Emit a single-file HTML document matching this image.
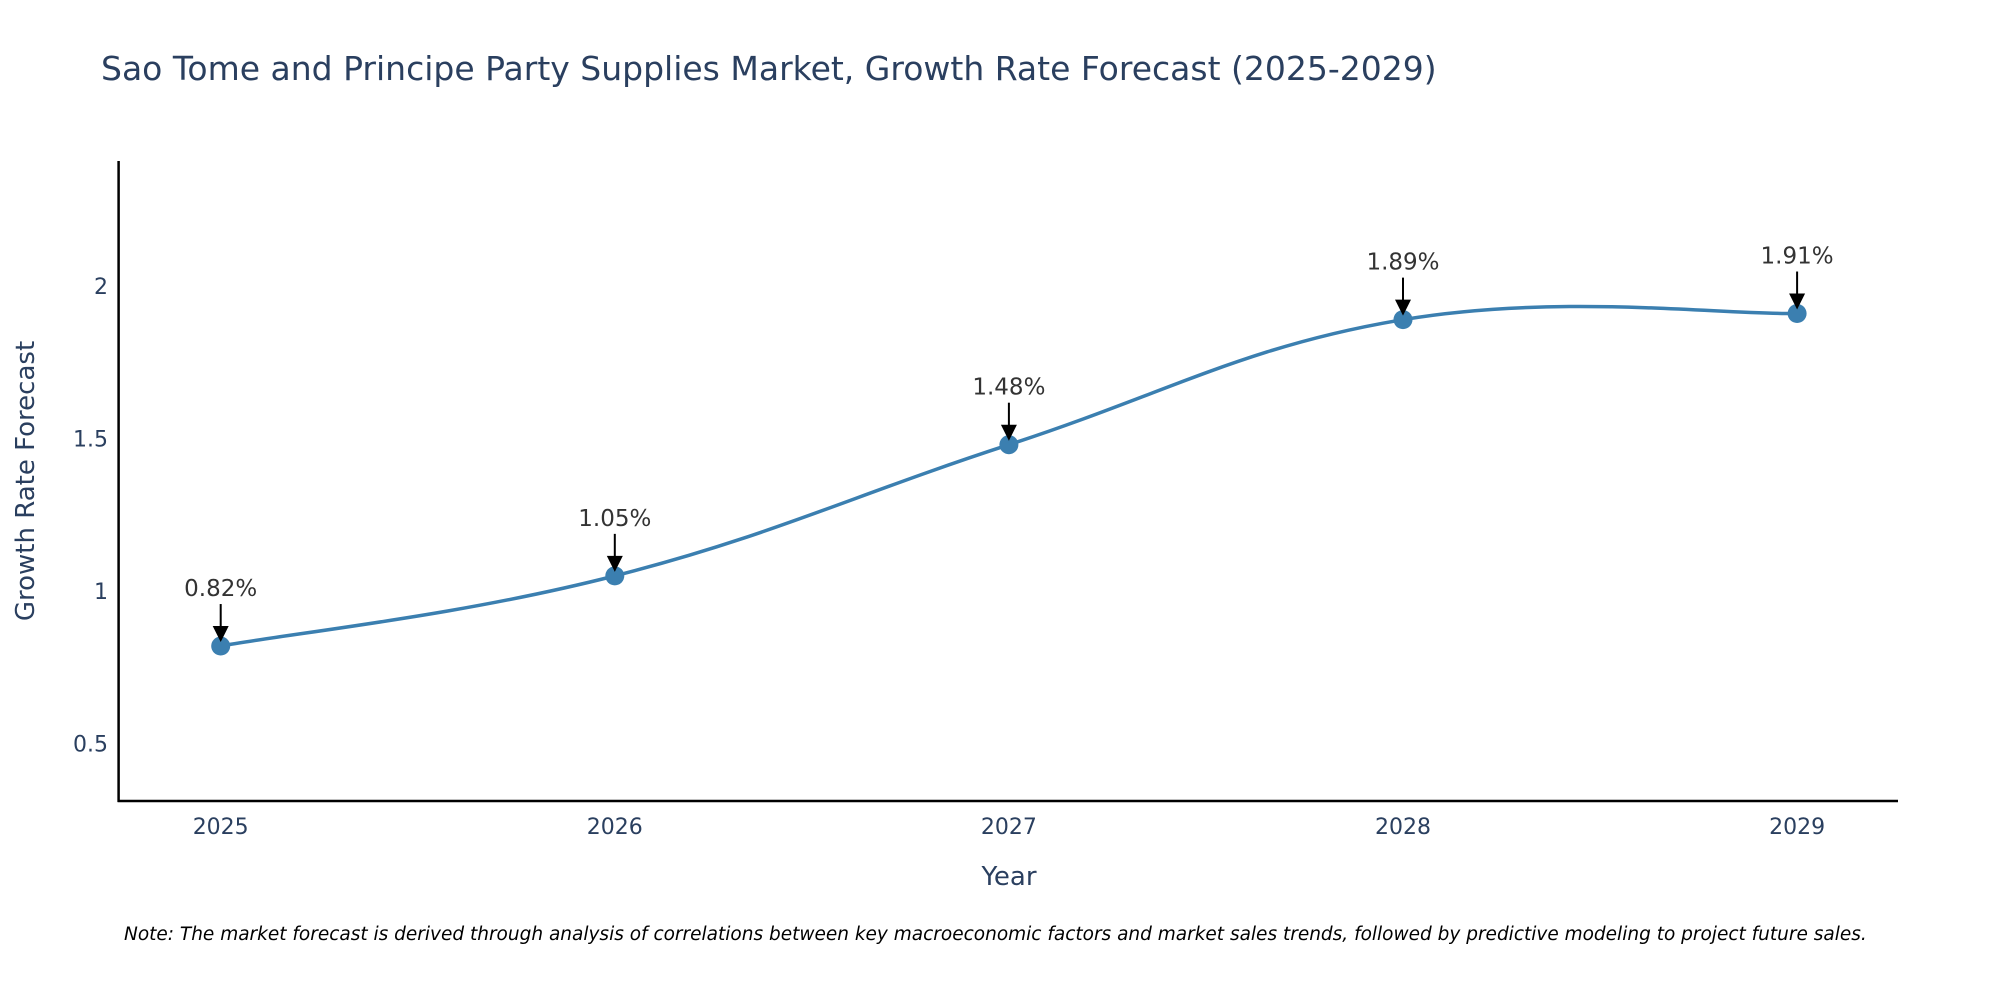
<!DOCTYPE html>
<html><head><meta charset="utf-8"><style>
html,body{margin:0;padding:0;background:#fff;}
svg{display:block;font-family:"DejaVu Sans","Liberation Sans",sans-serif;}
</style></head><body>
<svg id="chart" width="2000" height="1000" viewBox="0 0 2000 1000" xmlns="http://www.w3.org/2000/svg">
<text x="101" y="80" font-size="33" fill="#2a3f5f">Sao Tome and Principe Party Supplies Market, Growth Rate Forecast (2025-2029)</text>
<g id="plot"></g>
<text x="1009" y="885" font-size="26" fill="#2a3f5f" text-anchor="middle">Year</text>
<text transform="translate(34,481) rotate(-90)" font-size="26" fill="#2a3f5f" text-anchor="middle">Growth Rate Forecast</text>
<text x="124" y="940" font-size="18.5" font-style="italic" fill="#000">Note: The market forecast is derived through analysis of correlations between key macroeconomic factors and market sales trends, followed by predictive modeling to project future sales.</text>
</svg>
<script>
const years = [2025, 2026, 2027, 2028, 2029];
const growth = [0.82, 1.05, 1.48, 1.89, 1.91];
const labels = ["0.82%", "1.05%", "1.48%", "1.89%", "1.91%"];
const yTicks = [0.5, 1, 1.5, 2];
const yTickLabels = ["0.5", "1", "1.5", "2"];

const NS = "http://www.w3.org/2000/svg";
const g = document.getElementById("plot");
const xL = 118.6, xR = 1898, yB = 801, yT = 161;
const yMin = 0.312, yMax = 2.41;
const xS = v => 220.7 + (v - 2025) * 394.1;
const yS = v => yB - (v - yMin) / (yMax - yMin) * (yB - yT);
function mk(tag, attrs, parent) {
  const e = document.createElementNS(NS, tag);
  for (const k in attrs) e.setAttribute(k, attrs[k]);
  (parent || g).appendChild(e);
  return e;
}
let a = mk("line", {x1: xL, y1: yT, x2: xL, y2: yB + 1, stroke: "#000", "stroke-width": 2.5});


a = mk("line", {x1: xL - 1, y1: yB, x2: xR, y2: yB, stroke: "#000", "stroke-width": 2.5});


yTicks.forEach((t, i) => {
  const e = mk("text", {x: 108, y: yS(t) + 8, "font-size": 22, fill: "#2a3f5f", "text-anchor": "end"});
  e.textContent = yTickLabels[i];
  
  
});
years.forEach(y => {
  const e = mk("text", {x: xS(y), y: 834, "font-size": 22, fill: "#2a3f5f", "text-anchor": "middle"});
  e.textContent = String(y);
  
  
});
const pts = years.map((y, i) => [xS(y), yS(growth[i])]);
let d = "M" + pts[0][0] + "," + pts[0][1];
const t = 0.2;
for (let i = 0; i < pts.length - 1; i++) {
  const p0 = pts[Math.max(0, i - 1)], p1 = pts[i], p2 = pts[i + 1], p3 = pts[Math.min(pts.length - 1, i + 2)];
  const c1 = [p1[0] + (p2[0] - p0[0]) * t, p1[1] + (p2[1] - p0[1]) * t];
  const c2 = [p2[0] - (p3[0] - p1[0]) * t, p2[1] - (p3[1] - p1[1]) * t];
  d += " C" + c1 + " " + c2 + " " + p2;
}
const line = mk("path", {d: d, fill: "none", stroke: "#3b7fb0", "stroke-width": 3.5});


pts.forEach((p, i) => {
  const c = mk("circle", {cx: p[0], cy: p[1], r: 9.5, fill: "#3b7fb0"});
  
  
  const ar = mk("line", {x1: p[0], y1: p[1] - 42, x2: p[0], y2: p[1] - 18, stroke: "#000", "stroke-width": 2});
  
  
  const hd = mk("polygon", {points: (p[0] - 8) + "," + (p[1] - 20) + " " + (p[0] + 8) + "," + (p[1] - 20) + " " + p[0] + "," + (p[1] - 4), fill: "#000"});
  
  
  const tx = mk("text", {x: p[0], y: p[1] - 50, "font-size": 23, fill: "#333", "text-anchor": "middle"});
  tx.textContent = labels[i];
  
  
});
</script>
</body></html>
